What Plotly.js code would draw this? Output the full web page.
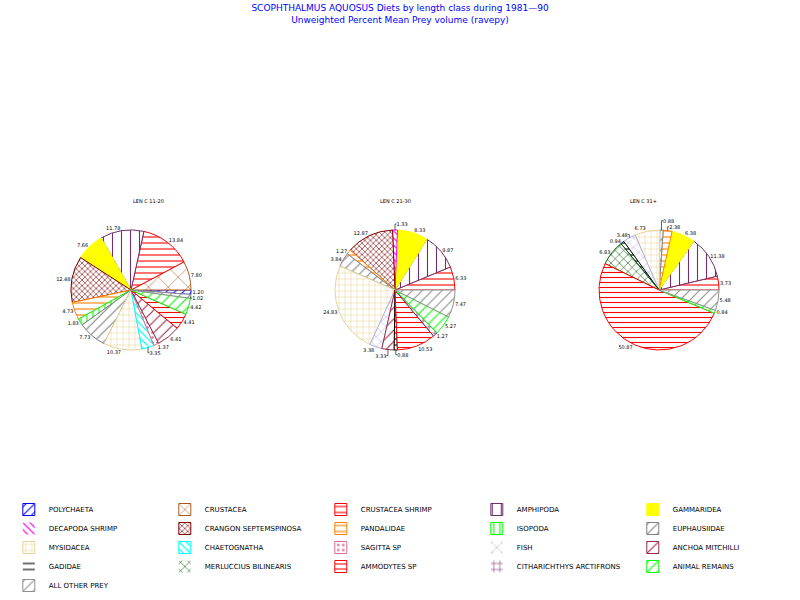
<!DOCTYPE html>
<html>
<head>
<meta charset="utf-8">
<script src="https://cdn.plot.ly/plotly-3.0.1.min.js"></script>
<style>html,body{margin:0;padding:0;background:#fff;}#chart{width:800px;height:600px;}</style>
</head>
<body>
<div id="chart"></div>
<script>
// ---- data ----
const categories = ['POLYCHAETA','CRUSTACEA','CRUSTACEA SHRIMP','AMPHIPODA','GAMMARIDEA',
  'DECAPODA SHRIMP','CRANGON SEPTEMSPINOSA','PANDALIDAE','ISOPODA','EUPHAUSIIDAE',
  'MYSIDACEA','CHAETOGNATHA','SAGITTA SP','FISH','ANCHOA MITCHILLI',
  'GADIDAE','MERLUCCIUS BILINEARIS','AMMODYTES SP','CITHARICHTHYS ARCTIFRONS','ANIMAL REMAINS',
  'ALL OTHER PREY'];
const pie1Values = [1.20,7.80,13.84,11.78,7.66,0,12.48,4.73,1.83,7.73,10.37,3.35,1.37,0,6.41,0,0,4.41,0,4.42,1.02];
const pie2Values = [0,0,6.33,9.87,8.33,1.33,12.87,1.27,0,3.84,24.83,0,0,3.38,3.33,0.88,0,10.53,1.27,5.27,7.47];
const pie3Values = [0,0,3.73,11.38,6.38,0,0,2.38,0,0.88,6.73,0,0,3.48,0,0.94,6.83,50.87,0,0.84,5.48];
const pieTitles = ['LEN C 11-20','LEN C 21-30','LEN C 31+'];
const chartTitle = 'SCOPHTHALMUS AQUOSUS Diets by length class during 1981\u201490';
const chartSubtitle = 'Unweighted Percent Mean Prey volume (ravepy)';

// ---- styles ----
const catColors = ['#0000ff','#a85a1e','#ff0000','#703070','#ffff00',
  '#ff00ff','#800000','#ff8000','#00ff00','#808080',
  '#e6d49c','#00ffff','#d87090','#b0b0e0','#982848',
  '#000000','#005a00','#ff0000','#703060','#00ff00',
  '#909090'];
const patShape = ['/','x','-','|','', '\\','x','-','|','/', '+','\\','.','x','/', '-','x','-','+','/', '/'];
const patSize  = [6,14,6,9,8, 5,4,6,6,7, 6,5,5,7,8, 6,6,5,6,7, 7];
const patSolid = patSize.map(s => Math.min(0.35, 1.1 / s));

const allValues = [pie1Values, pie2Values, pie3Values];
const centersX = [131, 395, 659];
const centerY = 290;
const R = 60;

const traces = allValues.map((vals, k) => ({
  type: 'pie',
  labels: categories,
  values: vals,
  sort: false,
  direction: 'counterclockwise',
  rotation: 90,
  text: vals.map(v => v > 0 ? v.toFixed(2) : ''),
  textinfo: 'text',
  textposition: 'outside',
  textfont: {family: 'DejaVu Sans', size: 5, color: '#000'},
  hoverinfo: 'label+value',
  marker: {
    colors: catColors,
    line: {color: catColors, width: vals.map(v => v > 0 ? 1 : 0)},
    pattern: {
      shape: patShape,
      size: patSize,
      solidity: patSolid,
      fgcolor: catColors,
      bgcolor: catColors.map((c, i) => patShape[i] === '' ? c : '#ffffff'),
      fillmode: 'replace'
    }
  },
  domain: {
    x: [(centersX[k] - R) / 800, (centersX[k] + R) / 800],
    y: [1 - (centerY + R) / 600, 1 - (centerY - R) / 600]
  },
  showlegend: true
}));

const annotations = pieTitles.map((t, k) => ({
  text: t, xref: 'paper', yref: 'paper',
  x: centersX[k] / 800, y: 1 - 201 / 600,
  showarrow: false,
  font: {family: 'DejaVu Sans', size: 5, color: '#000'}
}));

const layout = {
  width: 800, height: 600,
  margin: {l: 0, r: 0, t: 0, b: 0},
  paper_bgcolor: '#fff',
  title: {
    text: chartTitle + '<br>' + chartSubtitle,
    font: {family: 'DejaVu Sans', size: 9, color: '#0000ff'},
    x: 0.5, xanchor: 'center', yref: 'container', y: 0.982, yanchor: 'top'
  },
  showlegend: true,
  legend: {
    orientation: 'h',
    x: 0.011, xanchor: 'left', y: 0.0, yanchor: 'bottom',
    entrywidth: 111, entrywidthmode: 'pixels',
    font: {family: 'DejaVu Sans', size: 7, color: '#000'},
    bgcolor: 'rgba(0,0,0,0)'
  },
  annotations: annotations
};

Plotly.newPlot('chart', traces, layout, {displayModeBar: false, staticPlot: true});
</script>
</body>
</html>
